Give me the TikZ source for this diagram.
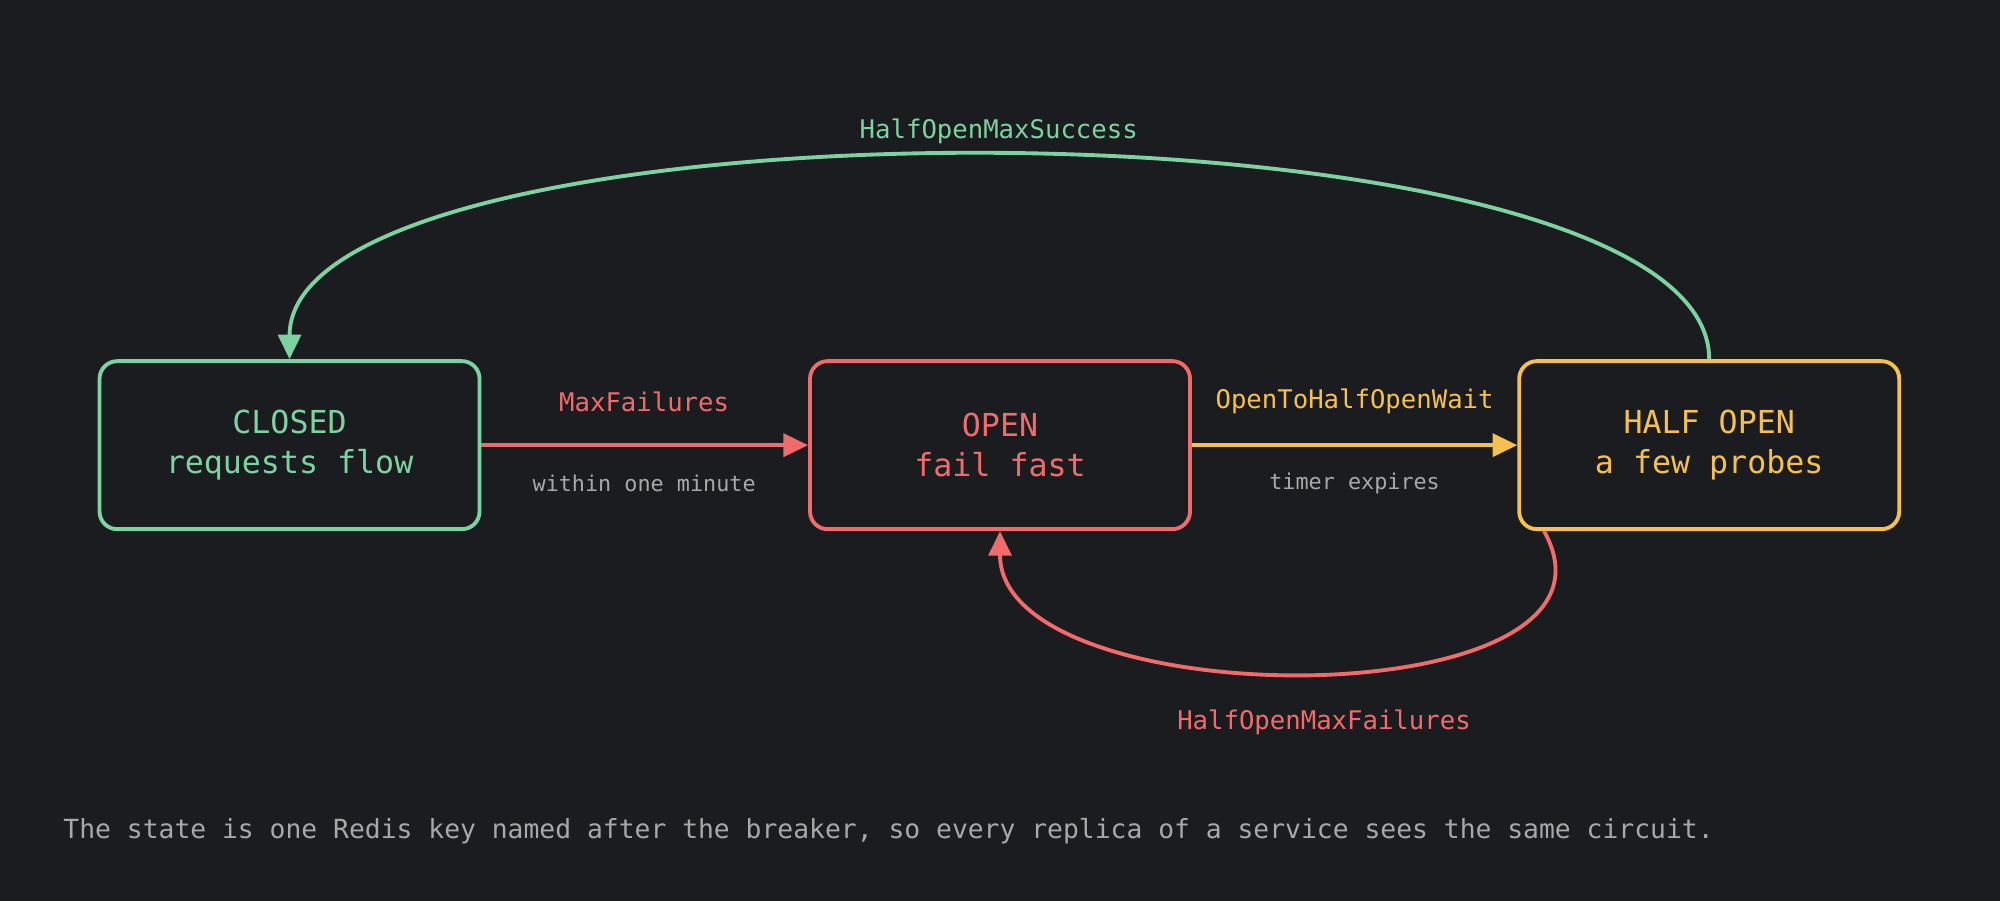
\documentclass[tikz,border=0pt]{standalone}
\usepackage{fontspec}
\setmonofont{DejaVu Sans Mono}
\usetikzlibrary{arrows.meta}
\definecolor{bg}{HTML}{1B1C20}
\definecolor{okgreen}{HTML}{7DD3A0}
\definecolor{badred}{HTML}{F26B6B}
\definecolor{warnyellow}{HTML}{F5C04F}
\definecolor{note}{HTML}{A8A8A8}
\begin{document}
\begin{tikzpicture}
        [x=0.012755cm, y=-0.012755cm, font=\ttfamily,
        state/.style={draw, rounded corners=5pt, line width=1.1pt, minimum width=3.8cm, minimum height=1.68cm, align=center, font=\ttfamily\fontsize{9}{11.5}\selectfont},
        edge/.style={line width=1.1pt, -{Triangle[length=7pt, width=6.5pt]}},
        label/.style={font=\ttfamily\fontsize{7.3}{9}\selectfont},
        small/.style={font=\ttfamily\fontsize{6.2}{8}\selectfont, text=note}]

        \fill[bg] (0,0) rectangle (1568,706);

        \node[state, okgreen] (closed) at (227,349) {CLOSED\\requests flow};
        \node[state, badred] (open) at (784,349) {OPEN\\fail fast};
        \node[state, warnyellow] (half) at (1340,349) {HALF OPEN\\a few probes};

        % forward transitions
        \draw[edge, badred] (closed) -- (open);
        \draw[edge, warnyellow] (open) -- (half);
        \node[label, text=badred] (lmax) at (505,315) {MaxFailures};
        \node[small] (lmin) at (505,379) {within one minute};
        \node[label, text=warnyellow] (lwait) at (1062,315) {OpenToHalfOpenWait};
        \node[small] (ltimer) at (1062,379) {timer expires};

        % back transitions
        \draw[edge, okgreen] (half.north) .. controls (1340,69) and (227,69) .. (closed.north);
        \draw[edge, badred] ([xshift=-47]half.south) .. controls (1293,564) and (784,564) .. (open.south);
        \node[label, text=okgreen] (lsucc) at (783,103) {HalfOpenMaxSuccess};
        \node[label, text=badred] (lfail) at (1038,566) {HalfOpenMaxFailures};

        \node[anchor=west, text=note, font=\ttfamily\fontsize{7.5}{9}\selectfont] (footer) at (40,652)
            {The state is one Redis key named after the breaker, so every replica of a service sees the same circuit.};
    \end{tikzpicture}
\end{document}
